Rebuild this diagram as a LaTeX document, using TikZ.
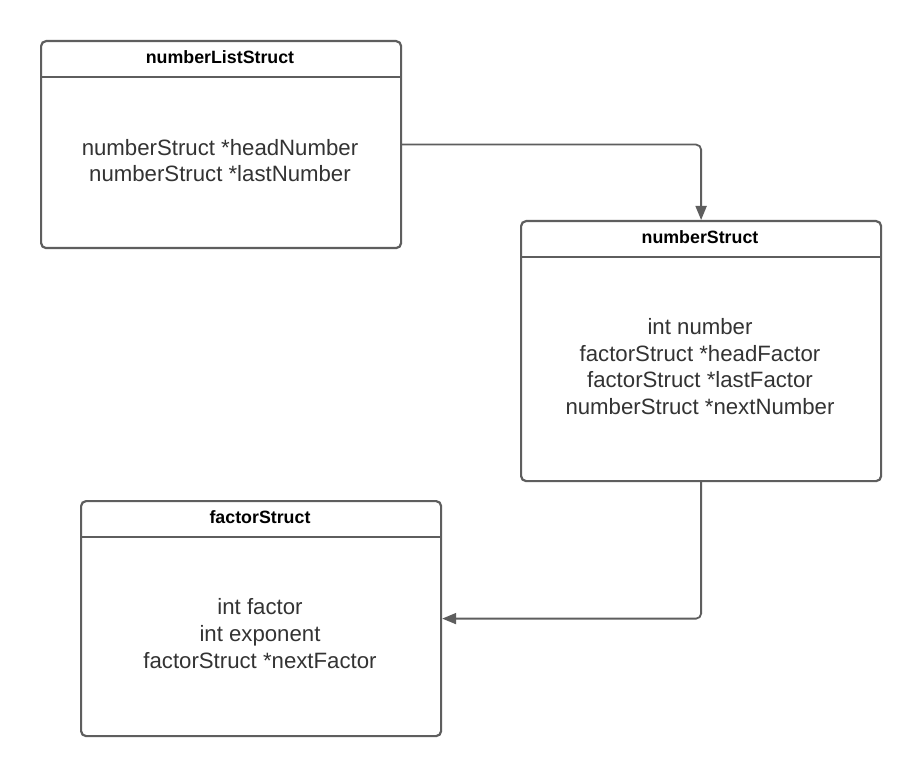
\documentclass[tikz,border=0pt]{standalone}
\usepackage{fontspec}
\setmainfont{Liberation Sans}
\usetikzlibrary{arrows.meta}
\definecolor{linegray}{HTML}{5E5E5E}
\definecolor{textgray}{HTML}{333333}
\tikzset{
  structbox/.style={draw=linegray, line width=2.2pt, rounded corners=5pt, inner sep=0pt, anchor=north west},
  headline/.style={draw=linegray, line width=2.2pt},
  titletext/.style={text=black, font=\fontsize{17.8}{20}\selectfont\bfseries},
  bodytext/.style={text=textgray, align=center, font=\fontsize{22.2}{26.8}\selectfont},
  conn/.style={draw=linegray, line width=1.8pt, rounded corners=5pt, -{Triangle[length=14pt,width=11pt]}}
}
\begin{document}
\begin{tikzpicture}[x=1pt,y=-1pt]
\useasboundingbox[fill=white] (0,0) rectangle (920,775);
% box 1
\node[structbox, minimum width=360pt, minimum height=207pt] (b1) at (40,40) {};
\draw[headline] (40,77) -- (400,77);
\node[titletext] (t1) at (220,57) {numberListStruct};
\node[bodytext] (m1) at (220,160.5) {numberStruct *headNumber\\numberStruct *lastNumber};
% box 2
\node[structbox, minimum width=360pt, minimum height=260pt] (b2) at (520,220) {};
\draw[headline] (520,257) -- (880,257);
\node[titletext] (t2) at (700,237) {numberStruct};
\node[bodytext] (m2) at (700,366.5) {int number\\factorStruct *headFactor\\factorStruct *lastFactor\\numberStruct *nextNumber};
% box 3
\node[structbox, minimum width=360pt, minimum height=235pt] (b3) at (80,500) {};
\draw[headline] (80,537) -- (440,537);
\node[titletext] (t3) at (260,517) {factorStruct};
\node[bodytext] (m3) at (260,633.5) {int factor\\int exponent\\factorStruct *nextFactor};
% connectors
\draw[conn] (b1.east) -| (b2.north);
\draw[conn] (b2.south) |- (b3.east);
\end{tikzpicture}
\end{document}
